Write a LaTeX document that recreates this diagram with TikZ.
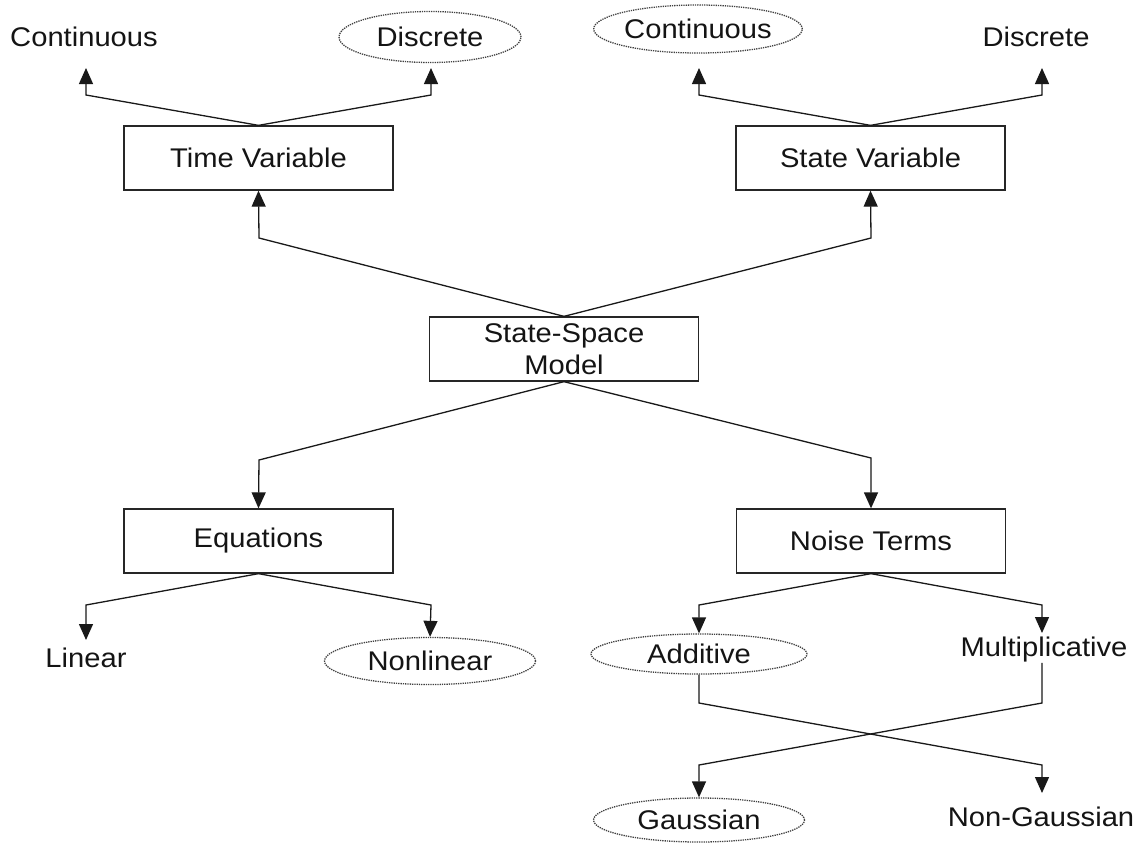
\documentclass[tikz,border=0pt]{standalone}
\usepackage{fontspec}
\setmainfont[FakeStretch=1.08]{Liberation Sans}
\usetikzlibrary{arrows.meta,shapes.geometric}
\begin{document}
\begin{tikzpicture}[x=1pt,y=-1pt,
  every node/.style={font=\fontsize{27}{30}\selectfont, text=black!92, inner sep=0pt},
  box/.style={draw=black!85, line width=1.3pt, rectangle, minimum width=269pt, minimum height=64pt, align=center},
  leaf/.style={},
  oval/.style={draw=black!75, densely dotted, line width=1.3pt, ellipse},
  link/.style={draw=black!90, line width=1.3pt},
  arr/.style={link, -{Triangle[width=14pt,length=16pt]}}]
\useasboundingbox (0,0) rectangle (1148,844);

% central model and the four categories
\node[box] (ssm) at (564,349) {State-Space\\[2pt]Model};
\node[box] (tv)  at (258.5,158) {Time Variable};
\node[box] (sv)  at (870.5,158) {State Variable};
\node[box] (eq)  at (258.5,541) {Equations};
\node[box] (nt)  at (871,541) {Noise Terms};

% options of each category
\node[leaf] (tvc) at (84,37) {Continuous};
\node[oval, minimum width=182pt, minimum height=51pt] (tvd) at (430,37) {Discrete};
\node[oval, minimum width=201pt, minimum height=48pt] (svc) at (698,29) {Continuous};
\node[leaf] (svd) at (1036,37) {Discrete};
\node[leaf] (lin) at (86,658) {Linear};
\node[oval, minimum width=211pt, minimum height=47pt] (nlin) at (430,661) {Nonlinear};
\node[oval, minimum width=216pt, minimum height=40pt] (add) at (699,654) {Additive};
\node[leaf] (mul) at (1044,650) {Multiplicative};
\node[oval, minimum width=211pt, minimum height=44pt] (gau) at (699,820) {Gaussian};
\node[leaf] (ngau) at (1041,817) {Non-Gaussian};

% bends and arrow tips
\coordinate (tvcB) at (86,95);   \coordinate (tvcT) at (86,68);
\coordinate (tvdB) at (431,95);  \coordinate (tvdT) at (431,68);
\coordinate (svcB) at (699,95);  \coordinate (svcT) at (699,68);
\coordinate (svdB) at (1042,95); \coordinate (svdT) at (1042,68);
\coordinate (tvB) at (259,238);
\coordinate (svB) at (871,238);
\coordinate (eqB) at (259,460);
\coordinate (ntB) at (871,458);
\coordinate (linB) at (86,605);  \coordinate (linT) at (86,640);
\coordinate (nlinB) at (431,605);
\coordinate (addB) at (699,605);
\coordinate (mulB) at (1042,605); \coordinate (mulT) at (1042,633);
\coordinate (addD) at (699,703);
\coordinate (mulD) at (1042,703);
\coordinate (ngauB) at (1042,765); \coordinate (ngauT) at (1042,793);
\coordinate (gauB) at (699,765);

% upper half
\draw[arr] (tv.north) -- (tvcB) -- (tvcT);
\draw[arr] (tv.north) -- (tvdB) -- (tvdT);
\draw[arr] (sv.north) -- (svcB) -- (svcT);
\draw[arr] (sv.north) -- (svdB) -- (svdT);
\draw[arr] (ssm.north) -- (tvB) -- (tv.south);
\draw[arr] (ssm.north) -- (svB) -- (sv.south);

% lower half
\draw[arr] (ssm.south) -- (eqB) -- (eq.north);
\draw[arr] (ssm.south) -- (ntB) -- (nt.north);
\draw[arr] (eq.south) -- (linB) -- (linT);
\draw[arr] (eq.south) -- (nlinB) -- (nlin.north);
\draw[arr] (nt.south) -- (addB) -- (add.north);
\draw[arr] (nt.south) -- (mulB) -- (mulT);

% noise distributions
\draw[arr] (add.south) -- (addD) -- (ngauB) -- (ngauT);
\draw[arr] (mul.south -| mulD) -- (mulD) -- (gauB) -- (gau.north);
\end{tikzpicture}
\end{document}
